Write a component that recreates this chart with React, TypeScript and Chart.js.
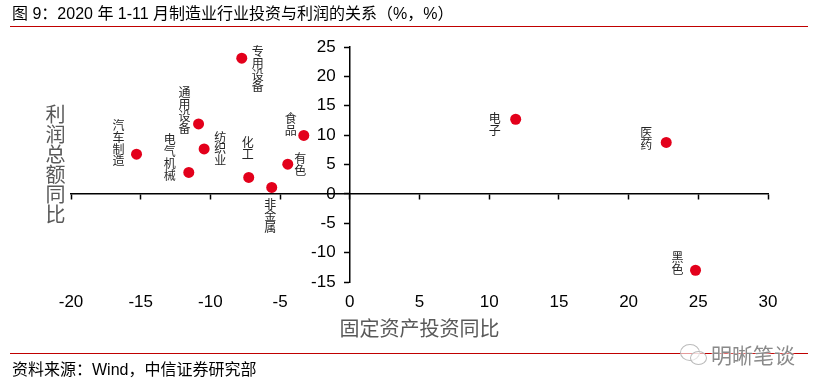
import React, { useEffect, useRef } from 'react';
import { Chart, registerables } from 'chart.js';

Chart.register(...registerables);

// ---- data ----
const industries = ['专用设备', '通用设备', '汽车制造', '纺织业', '电气机械', '化工', '非金属', '有色', '食品', '电子', '医药', '黑色'];
const investmentGrowth = [-7.75, -10.85, -15.3, -10.45, -11.55, -7.25, -5.6, -4.45, -3.3, 11.9, 22.7, 24.8];
const profitGrowth = [23.1, 11.9, 6.75, 7.65, 3.65, 2.8, 1.1, 5.05, 9.95, 12.7, 8.75, -13.0];
const xMin = -20;
const xMax = 30;
const yMin = -15;
const yMax = 25;
const tickStep = 5;

const titleText = '图 9：2020 年 1-11 月制造业行业投资与利润的关系（%，%）';
const xTitle = '固定资产投资同比';
const yTitle = '利润总额同比';
const sourceText = '资料来源：Wind，中信证券研究部';
const watermarkText = '明晰笔谈';

// label placement (column centre offset from the point, px)
const labelOffsets: [number, number][] = [
  [16, 11], [-14, -13.5], [-18, -11], [16, 0], [-19, -15], [-1, -29],
  [-1.5, 28.5], [12.5, 0], [-13, -11], [-21, 5], [-20, -4], [-18, -7],
];

const FONT = '"Liberation Sans", Arial, "Noto Sans CJK SC", sans-serif';
const CJK = '"Noto Sans CJK SC", "Liberation Sans", sans-serif';

const verticalLabels = {
  id: 'verticalLabels',
  afterDatasetsDraw(chart: any) {
    const meta = chart.getDatasetMeta(0);
    const ctx = chart.ctx;
    ctx.save();
    ctx.font = `12px ${CJK}`;
    ctx.fillStyle = '#262626';
    ctx.textAlign = 'center';
    ctx.textBaseline = 'middle';
    const lh = 11.8;
    meta.data.forEach((pt: any, i: number) => {
      const chars = Array.from(industries[i]);
      const [dx, dy] = labelOffsets[i];
      const cx = pt.x + dx;
      const top = pt.y + dy - (chars.length * lh) / 2 + lh / 2;
      chars.forEach((c, j) => ctx.fillText(c, cx, top + j * lh));
    });
    ctx.restore();
  },
};

export default function App() {
  const ref = useRef<HTMLCanvasElement>(null);

  useEffect(() => {
    if (!ref.current) return;
    const chart = new Chart(ref.current, {
      type: 'scatter',
      data: {
        datasets: [
          {
            data: investmentGrowth.map((x, i) => ({ x, y: profitGrowth[i] })),
            backgroundColor: '#E3001B',
            borderWidth: 0,
            pointRadius: 5.5,
            pointHoverRadius: 5.5,
          },
        ],
      },
      options: {
        animation: false,
        responsive: false,
        maintainAspectRatio: false,
        layout: { padding: { left: 71, right: 50, top: 47, bottom: 46.6 } },
        plugins: { legend: { display: false }, tooltip: { enabled: false } },
        scales: {
          x: {
            type: 'linear',
            position: 'bottom',
            min: xMin,
            max: xMax,
            ticks: { stepSize: tickStep, padding: 10, color: '#000', font: { size: 17, family: FONT } },
            grid: { display: false, drawTicks: false },
            border: { display: false },
            title: {
              display: true,
              text: xTitle,
              color: '#595959',
              font: { size: 20, family: CJK },
              padding: { top: -6, bottom: 4 },
            },
          },
          xLine: {
            type: 'linear',
            axis: 'x',
            position: { y: 0 },
            min: xMin,
            max: xMax,
            ticks: { display: false, stepSize: tickStep },
            grid: { display: true, drawOnChartArea: false, drawTicks: true, tickLength: 5, color: '#000', tickColor: '#000', tickWidth: 1.5 },
            border: { display: true, color: '#000', width: 1.5 },
          },
          y: {
            type: 'linear',
            position: { x: 0 },
            min: yMin,
            max: yMax,
            ticks: {
              stepSize: tickStep,
              color: '#000',
              font: { size: 17, family: FONT },
              callback: (v: any) => `${v}   `,
            },
            grid: { display: true, drawOnChartArea: false, drawTicks: true, tickLength: 5, color: '#000', tickColor: '#000', tickWidth: 1.5 },
            border: { display: true, color: '#000', width: 1.5 },
          },
        } as any,
      },
      plugins: [verticalLabels],
    });
    return () => chart.destroy();
  }, []);

  return (
    <div style={{ position: 'fixed', left: 0, top: 0, width: 818, height: 391, background: '#fff', overflow: 'hidden' }}>
      <canvas ref={ref} width={818} height={391} style={{ position: 'absolute', left: 0, top: 0, width: 818, height: 391 }} />
      <div style={{ position: 'absolute', left: 12, top: 4, fontFamily: FONT, fontSize: 16, color: '#000', whiteSpace: 'nowrap', lineHeight: '20px' }}>
        {titleText}
      </div>
      <div style={{ position: 'absolute', left: 10, top: 26, width: 798, borderTop: '1.5px solid #C00000' }} />
      <div
        style={{
          position: 'absolute', left: 45, top: 104, width: 21, fontFamily: CJK, fontSize: 20, lineHeight: '20px',
          color: '#595959', textAlign: 'center', wordBreak: 'break-all',
        }}
      >
        {yTitle}
      </div>
      <div style={{ position: 'absolute', left: 10, top: 353, width: 798, borderTop: '1.5px solid #C00000' }} />
      <div style={{ position: 'absolute', left: 12, top: 360, fontFamily: FONT, fontSize: 16, color: '#000', whiteSpace: 'nowrap', lineHeight: '20px' }}>
        {sourceText}
      </div>
      <div style={{ position: 'absolute', left: 680, top: 344, width: 18, height: 15, border: '1.5px solid #bbb', borderRadius: '50%', background: 'rgba(255,255,255,0.6)' }} />
      <div style={{ position: 'absolute', left: 690, top: 351, width: 15, height: 12, border: '1.5px solid #bbb', borderRadius: '50%', background: 'rgba(255,255,255,0.6)' }} />
      <div
        style={{
          position: 'absolute', left: 711, top: 341, fontFamily: CJK, fontSize: 21, lineHeight: '26px', color: '#8a8a8a',
          whiteSpace: 'nowrap', textShadow: '0 0 2px #fff, 0 0 2px #fff',
        }}
      >
        {watermarkText}
      </div>
    </div>
  );
}
